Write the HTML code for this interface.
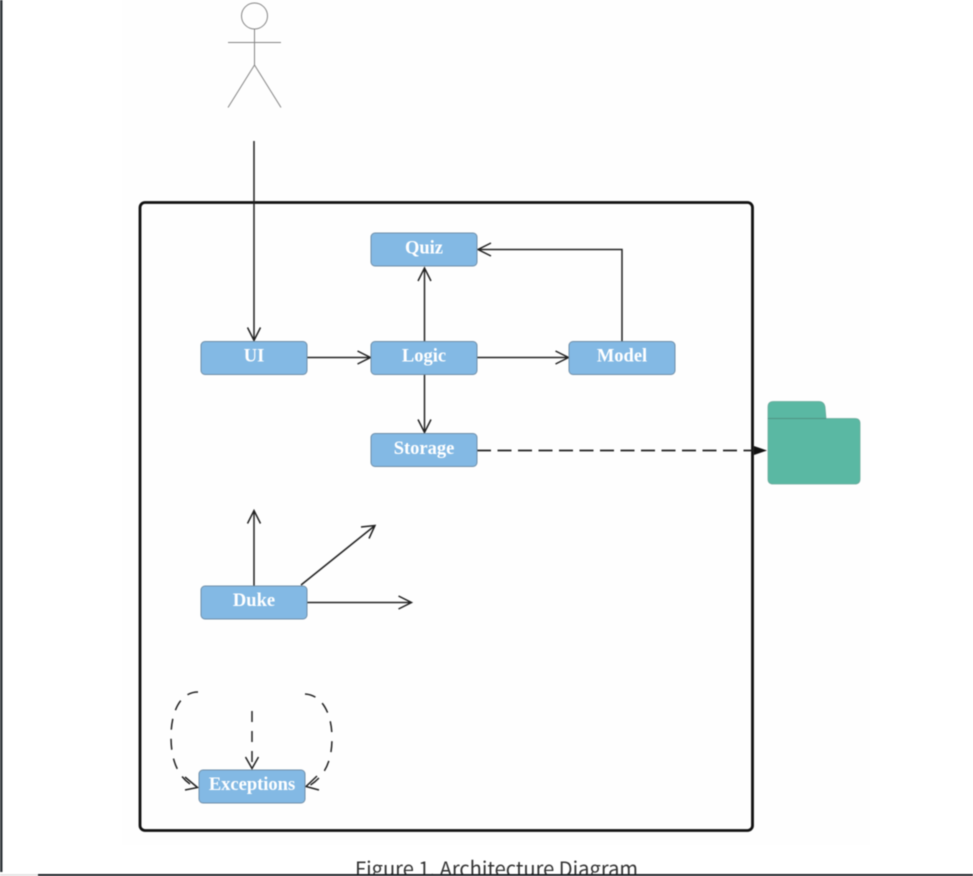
<!DOCTYPE html>
<html>
<head>
<meta charset="utf-8">
<style>
html,body{margin:0;padding:0;width:973px;height:876px;overflow:hidden;background:#fff}
svg{display:block;position:absolute;left:0;top:0;filter:blur(0.4px)}
.n{fill:#83b9e4;stroke:#6f8ea8;stroke-width:1}
.t{font-family:"Liberation Serif",serif;font-weight:bold;font-size:18.5px;fill:#fff;text-anchor:middle}
.l{fill:none;stroke:#222;stroke-width:1.5}
.d{fill:none;stroke:#222;stroke-width:1.5;stroke-dasharray:11 9}
</style>
</head>
<body>
<svg width="973" height="876" viewBox="0 0 973 876" xmlns="http://www.w3.org/2000/svg">
<rect width="973" height="876" fill="#fff"/>
<rect x="122" y="0" width="748" height="845" fill="#fefefe"/>
<rect x="0" y="0" width="2.500" height="872" fill="#2e3338"/>

<!-- actor -->
<g fill="none" stroke="#858585" stroke-width="1">
<circle cx="254.500" cy="16" r="13"/>
<path d="M254.500 29V65M228 42.500H281M254.500 65L228 107.500M254.500 65L281 107.500"/>
</g>

<!-- container -->
<rect x="140" y="202.500" width="612.500" height="628" rx="5" fill="none" stroke="#111" stroke-width="2.800"/>

<!-- connectors -->
<path class="l" d="M254 141V340M247.500 327.500L254 340.500L260.500 327.500"/>
<path class="l" d="M307 357.500H370M357.500 351L370.500 357.500L357.500 364"/>
<path class="l" d="M424.500 341V268M418 281L424.500 268L431 281"/>
<path class="l" d="M477 357.500H568M555.500 351L568.500 357.500L555.500 364"/>
<path class="l" d="M424.500 375V432M418 419.500L424.500 432.500L431 419.500"/>
<path class="l" d="M622 341V249.500H478M491 243L478 249.500L491 256"/>
<path d="M477 450.500H756" fill="none" stroke="#222" stroke-width="1.700" stroke-dasharray="14 6.500"/>
<path d="M754 446L767 450.500L754 455Z" fill="#111"/>
<path class="l" d="M254 586V511M247.500 523.500L254 510.500L260.500 523.500"/>
<path class="l" d="M301 585L375 525.500M361 527L375 525.500L369 538.500"/>
<path class="l" d="M307 602.500H411M398.500 596L411.500 602.500L398.500 609"/>

<!-- exception arrows -->
<path class="d" d="M198 692C180 692 171 712 171 737C171 762 179 780 197 788"/>
<path class="l" d="M185 777L197.500 787.500L185 790"/>
<path class="d" d="M252 711V767"/>
<path class="l" d="M245.500 757L252 768.500L258.500 757"/>
<path class="d" d="M305 694C323 695 332 715 332 738C332 762 324 778 307 787"/>
<path class="l" d="M317 776L306 786.500L319 790"/>

<!-- nodes -->
<rect class="n" x="371" y="233" width="106" height="33" rx="4"/>
<text class="t" x="424" y="253.500">Quiz</text>
<rect class="n" x="201" y="341.500" width="106" height="33" rx="4"/>
<text class="t" x="254" y="361.500">UI</text>
<rect class="n" x="371" y="341.500" width="106" height="33" rx="4"/>
<text class="t" x="424" y="361.500">Logic</text>
<rect class="n" x="569" y="341.500" width="106" height="33" rx="4"/>
<text class="t" x="622" y="361.500">Model</text>
<rect class="n" x="371" y="433.500" width="106" height="33" rx="4"/>
<text class="t" x="424" y="454">Storage</text>
<rect class="n" x="201" y="586" width="106" height="33" rx="4"/>
<text class="t" x="254" y="606">Duke</text>
<rect class="n" x="199" y="770" width="106" height="33" rx="4"/>
<text class="t" x="252" y="790">Exceptions</text>

<!-- folder -->
<path d="M768 418.500V407Q768 401.500 773.500 401.500H819Q824 401.500 825 407L826 418.500Z" fill="#5ab8a3" stroke="#69a99a" stroke-width="0.800"/>
<path d="M768 418.500H855Q860 418.500 860 423.500V479Q860 484 855 484H773Q768 484 768 479Z" fill="#5ab8a3" stroke="#69a99a" stroke-width="0.800"/>
<path d="M768 418.500H826" stroke="#4f9484" stroke-width="1" fill="none"/>

<!-- caption -->
<text x="355" y="876" font-family="'Noto Sans CJK SC','Liberation Sans',sans-serif" font-size="20" fill="#333" textLength="283" lengthAdjust="spacingAndGlyphs">Figure 1. Architecture Diagram</text>
<rect x="38" y="874" width="935" height="2" fill="#1c2126"/>
<rect x="0" y="874" width="38" height="2" fill="#e4e4e4"/>
</svg>
</body>
</html>
